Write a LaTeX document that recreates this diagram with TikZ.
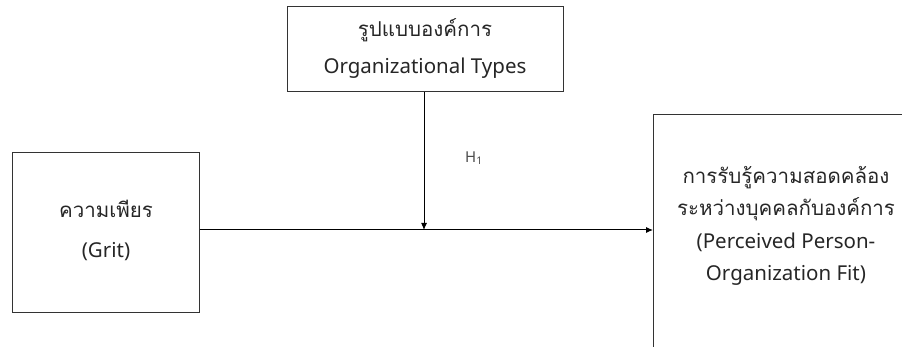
\documentclass[tikz,border=0pt]{standalone}
\usepackage{fontspec}
\setmainfont{Noto Sans}
\newfontfamily\thaifont[Script=Thai]{Loma}
\usetikzlibrary{arrows.meta}
\tikzset{
  box/.style={draw=black!80, line width=1pt, inner sep=0pt},
  conn/.style={draw=black, line width=1pt, -{Latex[length=7pt,width=6pt]}},
  txt/.style={align=center, text=black!85, inner sep=0pt},
}
\begin{document}
\begin{tikzpicture}[x=1pt,y=-1pt]
\useasboundingbox (0,0) rectangle (902,347);
\clip (0,0) rectangle (902,347);
% top box
\node[box, minimum width=276pt, minimum height=85pt] (types) at (425,49.5) {};
\node[txt, font=\fontsize{20.5}{37}\selectfont] (typestxt) at (425,48) {{\thaifont รูปแบบองค์การ}\\Organizational Types};
% left box
\node[box, minimum width=187pt, minimum height=159pt] (grit) at (105.5,232.5) {};
\node[txt, font=\fontsize{20.5}{40}\selectfont] (grittxt) at (106,230) {{\thaifont ความเพียร}\\(Grit)};
% right box (clipped)
\node[box, minimum width=270pt, minimum height=260pt, anchor=north west] (fit) at (653,114) {};
\node[txt, font=\fontsize{20.5}{32.5}\selectfont] (fittxt) at (786,226) {{\thaifont การรับรู้ความสอดคล้อง}\\{\thaifont ระหว่างบุคคลกับองค์การ}\\(Perceived Person-\\Organization Fit)};
% connectors
\coordinate (m) at (424,230);
\draw[conn] (grit.east |- m) -- (fit.west |- m);
\draw[conn] (types.south -| m) -- (m);
\node[text=black!70, font=\fontsize{15}{17}\selectfont] (h1) at (474,158) {H\textsubscript{1}};
\end{tikzpicture}
\end{document}
